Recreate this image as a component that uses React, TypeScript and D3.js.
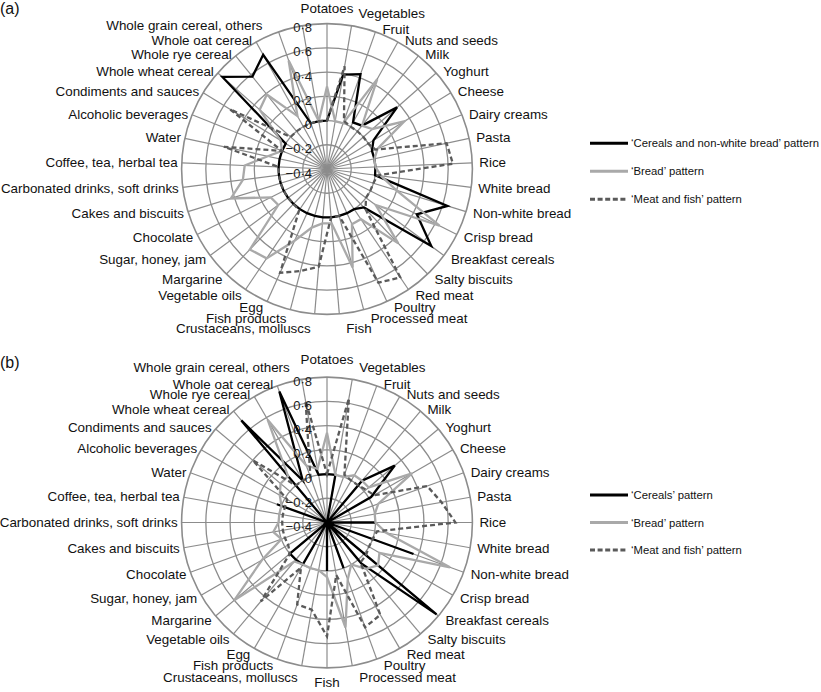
import React from "react";
import * as d3 from "d3";

// ---------- data ----------
const categoriesB = [
  "Potatoes", "Vegetables", "Fruit", "Nuts and seeds", "Milk", "Yoghurt", "Cheese",
  "Dairy creams", "Pasta", "Rice", "White bread", "Non-white bread", "Crisp bread",
  "Breakfast cereals", "Salty biscuits", "Red meat", "Poultry", "Processed meat", "Fish",
  "Crustaceans, molluscs", "Fish products", "Egg", "Vegetable oils", "Margarine",
  "Sugar, honey, jam", "Chocolate", "Cakes and biscuits", "Carbonated drinks, soft drinks",
  "Coffee, tea, herbal tea", "Water", "Alcoholic beverages", "Condiments and sauces",
  "Whole wheat cereal", "Whole rye cereal", "Whole oat cereal", "Whole grain cereal, others",
];
// panel (a) has one extra, unlabelled axis after the last category
const categoriesA = [...categoriesB, ""];

const cerealsA = [0, 0.39, 0.43, 0.04, 0.06, 0.37, 0.05, 0, 0, 0, 0, 0.64, 0.43, 0.67, 0.04,
  0, 0, 0, 0, 0, 0, 0, 0, 0, 0, 0, 0, 0, 0, 0, 0, 0, 0.75, 0.58, 0.68, 0, 0];
const breadA = [0.28, 0, 0, 0.45, 0.06, 0.1, 0.35, 0.05, 0, 0, 0.05, 0.2, 0.64, 0.1, 0.45,
  0.1, 0.1, 0.44, 0.05, 0.05, 0.1, 0.25, 0.49, 0.52, 0.1, 0.12, 0.43, 0.3, 0.28, 0.1, 0,
  0.05, 0.34, 0.39, 0.1, 0.55, 0];
const meatA = [0, 0.46, 0.02, 0, 0, 0, 0, 0.03, 0.61, 0.64, 0.02, 0, 0, 0, 0.06, 0.68, 0.63,
  0, 0, 0.41, 0.47, 0.54, 0.01, 0, 0, 0, 0, 0, 0, 0.47, 0, 0.54, 0, 0, 0, 0, 0];

const cerealsB = [0, 0, -0.4, -0.4, 0.05, 0.33, 0.02, -0.4, -0.4, 0, -0.4, 0.36, -0.4, 0.78,
  0.04, -0.4, 0, -0.4, 0, -0.4, -0.4, 0, 0, 0, -0.4, -0.4, -0.4, -0.4, -0.4, 0.04, -0.4,
  -0.4, 0.7, 0, 0.75, 0];
const breadB = [0.34, 0, 0, 0.05, 0.05, 0.05, 0.41, 0.05, 0, 0, 0.1, 0.68, 0.1, 0.15, 0.1,
  0, 0.1, 0.48, 0.05, 0, 0, 0, 0.02, 0.6, 0.22, 0, 0.05, 0, 0, 0, 0.05, 0.1, 0.1, 0.58,
  0.1, 0.05];
const meatB = [0, 0.64, 0.02, 0, 0, 0.02, 0.05, 0.48, 0.56, 0.66, 0.02, 0, 0, 0.02, 0.03,
  0.48, 0.52, 0.04, 0.54, 0.33, 0.32, 0.03, 0.45, 0, -0.03, -0.03, -0.03, -0.03, -0.03,
  -0.03, -0.02, 0.4, 0, 0, 0, 0.62];

const radialTicks = [-0.4, -0.2, 0, 0.2, 0.4, 0.6, 0.8];
const legendA = ["\u2018Cereals and non-white bread\u2019 pattern", "\u2018Bread\u2019 pattern", "\u2018Meat and fish\u2019 pattern"];
const legendB = ["\u2018Cereals\u2019 pattern", "\u2018Bread\u2019 pattern", "\u2018Meat and fish\u2019 pattern"];

// ---------- styling ----------
const FONT = "'Liberation Sans', Arial, Helvetica, sans-serif";
const GRID = "#8c8c8c";
const styles = [
  { color: "#000000", dash: undefined as string | undefined },
  { color: "#a9a9a9", dash: undefined as string | undefined },
  { color: "#5a5a5a", dash: "5,3" },
];

function fmtTick(v: number): string {
  if (Math.abs(v) < 1e-9) return "0";
  const s = Math.abs(v).toFixed(1).replace(".", "\u00B7");
  return v < 0 ? "\u2212" + s : s;
}

type RadarProps = {
  cx: number; cy: number; R: number;
  cats: string[]; series: number[][];
  legend: string[]; legendX: number; legendY: number; legendGap: number;
  nudge: Record<number, [number, number]>;
};

function Radar({ cx, cy, R, cats, series, legend, legendX, legendY, legendGap, nudge }: RadarProps) {
  const n = cats.length;
  const r = d3.scaleLinear().domain([-0.4, 0.8]).range([0, R]);
  const ang = (i: number) => (i / n) * 2 * Math.PI;
  const line = d3
    .lineRadial<number>()
    .angle((_d, i) => ang(i))
    .radius((d) => r(d))
    .curve(d3.curveLinearClosed);
  const f = (c: number) => (c > 0.94 ? Math.pow((c - 0.94) / 0.06, 1.5) : 0);

  return (
    <g>
      <g transform={`translate(${cx},${cy})`}>
        {cats.map((_c, i) => {
          const t = ang(i);
          return (
            <line key={"s" + i} x1={0} y1={0} x2={R * Math.sin(t)} y2={-R * Math.cos(t)}
              stroke={GRID} strokeWidth={1.2} />
          );
        })}
        {radialTicks.slice(1).map((v) => (
          <circle key={"r" + v} r={r(v)} fill="none" stroke={GRID}
            strokeWidth={v === 0.8 ? 1.6 : 1.3} />
        ))}
        {series.map((vals, k) => (
          <path key={"p" + k} d={line(vals) || ""} fill="none" stroke={styles[k].color}
            strokeWidth={2.3} strokeDasharray={styles[k].dash} strokeLinejoin="miter" />
        ))}
        {radialTicks.map((v) => (
          <text key={"t" + v} x={-15} y={-r(v) + 4} textAnchor="end" dominantBaseline="central"
            fontSize={13} fontFamily={FONT} fill="#1a1a1a">
            {fmtTick(v)}
          </text>
        ))}
        {cats.map((c, i) => {
          if (!c) return null;
          const t = ang(i);
          const s = Math.sin(t);
          const co = Math.cos(t);
          const anchor = Math.abs(s) < 0.03 ? "middle" : s > 0 ? "start" : "end";
          const dx = anchor === "start" ? 7 : anchor === "end" ? -4 : 0;
          const dy = co >= 0 ? -2 * co - 16 * f(co) : 7 * -co + 8 * f(-co);
          const [nx, ny] = nudge[i] || [0, 0];
          return (
            <text key={"c" + i} x={R * s + dx + nx} y={-R * co + dy + ny} textAnchor={anchor}
              dominantBaseline="central" fontSize={13.4} fontFamily={FONT} fill="#111">
              {c}
            </text>
          );
        })}
      </g>
      {legend.map((name, k) => {
        const y = legendY + k * legendGap;
        return (
          <g key={"l" + k}>
            <line x1={legendX} x2={legendX + 38} y1={y} y2={y} stroke={styles[k].color}
              strokeWidth={3} strokeDasharray={styles[k].dash ? "5,2.6" : undefined} />
            <text x={legendX + 41} y={y} dominantBaseline="central" fontSize={11.3}
              fontFamily={FONT} fill="#111">
              {name}
            </text>
          </g>
        );
      })}
    </g>
  );
}

export default function App() {
  return (
    <svg width={821} height={692} viewBox="0 0 821 692"
      style={{ position: "absolute", left: 0, top: 0, background: "#fff" }}>
      <rect x={0} y={0} width={821} height={692} fill="#fff" />
      <text x={0} y={14} fontSize={16} fontFamily={FONT} fill="#111">(a)</text>
      <text x={0} y={368} fontSize={16} fontFamily={FONT} fill="#111">(b)</text>
      <Radar cx={327} cy={169} R={145.4} cats={categoriesA}
        series={[cerealsA, breadA, meatA]} legend={legendA}
        legendX={590} legendY={143.3} legendGap={28}
        nudge={{ 0: [0, 2.5], 35: [-12, -4] }} />
      <Radar cx={327} cy={522.5} R={145.4} cats={categoriesB}
        series={[cerealsB, breadB, meatB]} legend={legendB}
        legendX={590} legendY={495} legendGap={27.5} nudge={{ 35: [-8, 0] }} />
    </svg>
  );
}
